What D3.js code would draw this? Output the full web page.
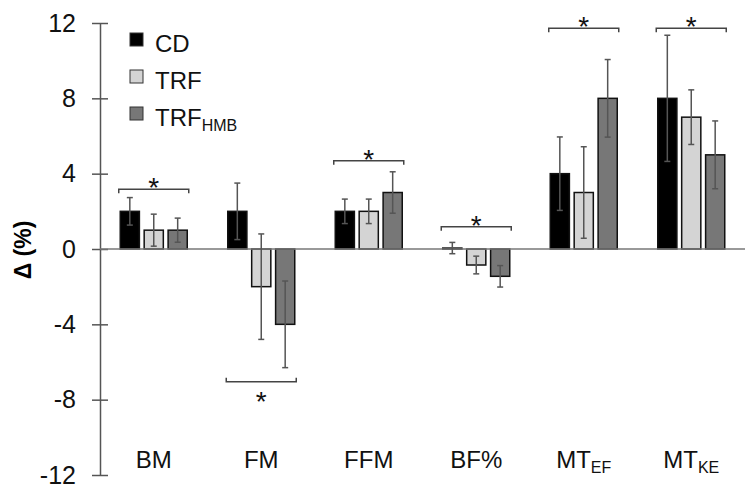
<!DOCTYPE html>
<html><head><meta charset="utf-8">
<script src="https://cdn.jsdelivr.net/npm/d3@7"></script>
<style>body{margin:0;background:#fff}svg{display:block}text{font-family:"Liberation Sans",Arial,sans-serif}</style>
</head><body><svg id="c" width="756" height="490"></svg>
<script>
const categories = ["BM","FM","FFM","BF%","MT_EF","MT_KE"];
const series = ["CD","TRF","TRF_HMB"];
const cdValues   = [2, 2, 2, 0.05, 4, 8];
const cdErrors   = [0.73, 1.5, 0.65, 0.3, 1.95, 3.35];
const trfValues  = [1, -2, 2, -0.85, 3, 7];
const trfErrors  = [0.85, 2.8, 0.65, 0.47, 2.43, 1.45];
const hmbValues  = [1, -4, 3, -1.45, 8, 5];
const hmbErrors  = [0.64, 2.3, 1.1, 0.57, 2.06, 1.8];
const yTicks = [12, 8, 4, 0, -4, -8, -12];
const sigCategories = ["BM","FM","FFM","BF%","MT_EF","MT_KE"];
const sigLevels = [3.17, -7.05, 4.69, 1.18, 11.72, 11.72];
const sigBelow = [false, true, false, false, false, false];

const colors = {CD:"#000000", TRF:"#d4d4d4", TRF_HMB:"#777777"};
const values = {CD:cdValues, TRF:trfValues, TRF_HMB:hmbValues};
const errors = {CD:cdErrors, TRF:trfErrors, TRF_HMB:hmbErrors};

const svg = d3.select("#c");
const x0 = d3.scaleBand().domain(categories).range([100,745]).padding(0);
const groupW = 67;
const x1 = d3.scaleBand().domain(series).range([0,groupW]).paddingInner(0.2).paddingOuter(0);
const y = d3.scaleLinear().domain([-12,12]).range([475,23]);

// y axis
const yAxis = d3.axisLeft(y).tickValues(yTicks).tickSize(0).tickFormat(d => String(d));
const ga = svg.append("g").attr("transform","translate(100,0)").call(yAxis);
ga.select(".domain").attr("stroke","#555").attr("stroke-width",1.5);
ga.selectAll(".tick text").attr("x",-24).attr("font-size",25).attr("fill","#111")
  .attr("font-family","'Liberation Sans',Arial,sans-serif");
ga.selectAll(".tick").append("line").attr("x1",-8).attr("x2",8).attr("stroke","#555").attr("stroke-width",1.5);

// y label
svg.append("text").attr("transform","translate(31,250) rotate(-90)")
  .attr("text-anchor","middle").attr("font-size",23).attr("font-weight","bold").text("Δ (%)");

// bars
const rows = [];
categories.forEach((c,i)=>series.forEach(s=>rows.push({c,s,v:values[s][i],e:errors[s][i]})));
const bx = d => x0(d.c) + x0.bandwidth()/2 - groupW/2 + x1(d.s);
svg.append("g").selectAll("rect").data(rows).join("rect")
  .attr("x",bx).attr("width",x1.bandwidth())
  .attr("y",d=>y(Math.max(0,d.v))).attr("height",d=>Math.abs(y(d.v)-y(0)))
  .attr("fill",d=>colors[d.s]).attr("stroke","#111").attr("stroke-width",1.5);

// zero line
svg.append("line").attr("x1",100).attr("x2",745).attr("y1",y(0)).attr("y2",y(0))
  .attr("stroke","#777").attr("stroke-width",1.5);

// error bars
const eg = svg.append("g").attr("stroke","#555").attr("stroke-width",1.5);
rows.forEach(d=>{
  const cx = bx(d)+x1.bandwidth()/2;
  eg.append("line").attr("x1",cx).attr("x2",cx).attr("y1",y(d.v+d.e)).attr("y2",y(d.v-d.e));
  [d.v+d.e,d.v-d.e].forEach(v=>eg.append("line").attr("x1",cx-3).attr("x2",cx+3).attr("y1",y(v)).attr("y2",y(v)));
});

// significance brackets
sigCategories.forEach((c,i)=>{
  const cx = x0(c)+x0.bandwidth()/2, yy = y(sigLevels[i]);
  const dir = sigBelow[i] ? -1 : 1;
  svg.append("path").attr("d",`M${cx-35},${yy+4*dir}V${yy}H${cx+35}V${yy+4*dir}`)
    .attr("fill","none").attr("stroke","#444").attr("stroke-width",1.5);
  svg.append("text").attr("x",cx).attr("y", sigBelow[i] ? yy+29 : yy+8)
    .attr("text-anchor","middle").attr("font-size",28).attr("fill","#111").text("*");
});

// category labels
const cl = svg.append("g").selectAll("text").data(categories).join("text")
  .attr("x",d=>x0(d)+x0.bandwidth()/2).attr("y",468).attr("text-anchor","middle")
  .attr("font-size",24).attr("fill","#111");
cl.each(function(d){
  const parts = d.split("_");
  const t = d3.select(this);
  t.append("tspan").text(parts[0]);
  if(parts[1]) t.append("tspan").attr("font-size",16).attr("dy",5).text(parts[1]);
});

// legend
const lg = svg.append("g");
series.forEach((s,i)=>{
  const ly = 40 + i*37;
  lg.append("rect").attr("x",130).attr("y",ly-7).attr("width",13).attr("height",13)
    .attr("fill",colors[s]).attr("stroke","#333").attr("stroke-width",1);
  const t = lg.append("text").attr("x",155).attr("y",ly+12).attr("font-size",24).attr("fill","#111");
  const parts = s.split("_");
  t.append("tspan").text(parts[0]);
  if(parts[1]) t.append("tspan").attr("font-size",16).attr("dy",5).text(parts[1]);
});
</script></body></html>
